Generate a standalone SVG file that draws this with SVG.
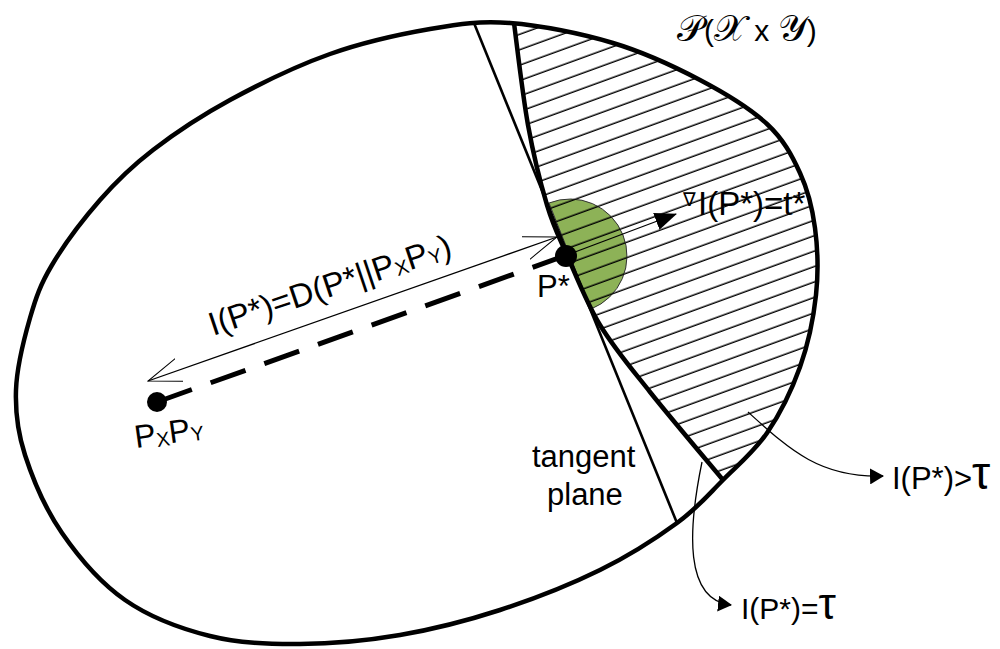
<svg xmlns="http://www.w3.org/2000/svg" width="1000" height="649" viewBox="0 0 1000 649">
<style>
.lbl{font-family:"Liberation Sans",Arial,sans-serif;fill:#000}
.thick{fill:none;stroke:#000;stroke-width:4.5}
.thin{fill:none;stroke:#000;stroke-width:1.3}
.script{font-family:"DejaVu Serif",serif;font-size:37px}
</style>
<defs>
<path id="outer" d="M16,390 C16.8,367.2 24,338.8 30,318 S40.3,284.7 52,265 S83.2,219.2 100,200 S131.3,166.7 153,150 S200.5,116 230,100 S296.7,65.8 330,54 S400,34.2 430,29 S479.5,20.7 510,23 S581.3,33.5 613,43 S674.3,66.5 700,80 S750.3,108.5 767,124 S792,155.7 800,173 S812.3,207.7 815,228 S818.5,271.8 816,295 S808.2,344 800,367 S779.8,414.2 767,433 S738,465 723,480 S697.5,508 677,523 S629.5,555.5 600,570 S533.3,599.2 500,610 S433.3,629.3 400,635 S331.7,643.8 300,644 S239.2,643.3 210,636 S149.7,617.2 125,600 S78.7,557.2 62,533 S32.7,478.8 25,455 S15.2,412.8 16,390 Z"/>
<clipPath id="clipOuter"><use href="#outer"/></clipPath>
<clipPath id="clipRight"><path d="M514,0 L514,23 C516.3,40 522.5,94.7 528,125 S540.5,183.3 547,205 S558.2,235 567,255 S586.2,302.2 600,325 S629.5,366.2 650,392 S710.8,465.3 723,480 L790,560 L1000,649 L1000,0 Z"/></clipPath>
<pattern id="hatch" patternUnits="userSpaceOnUse" width="200" height="14.5" patternTransform="rotate(-20)">
<line x1="0" y1="7" x2="200" y2="7" stroke="#000" stroke-width="1.5"/>
</pattern>
<marker id="openArrow" viewBox="0 0 34 26" refX="33" refY="13" markerWidth="34" markerHeight="26" markerUnits="userSpaceOnUse" orient="auto-start-reverse">
<path d="M0,1 L33,13 L0,25" fill="none" stroke="#000" stroke-width="1"/>
</marker>
<marker id="bigHead" viewBox="0 0 22 18" refX="21" refY="9" markerWidth="22" markerHeight="18" markerUnits="userSpaceOnUse" orient="auto">
<path d="M0,0 L22,9 L0,18 Z" fill="#000"/>
</marker>
<marker id="smallHead" viewBox="0 0 14 16" refX="13" refY="8" markerWidth="14" markerHeight="16" markerUnits="userSpaceOnUse" orient="auto">
<path d="M0,0 L14,8 L0,16 Z" fill="#000"/>
</marker>
</defs>

<g id="hatched-region">
<g clip-path="url(#clipOuter)"><g clip-path="url(#clipRight)">
<rect x="400" y="0" width="600" height="649" fill="url(#hatch)"/>
</g></g>
</g>

<g id="green-halfdisk">
<path d="M549,203 A57,57 0 0 1 591,309 Z" fill="#8db257" stroke="#333" stroke-width="1"/>
<g clip-path="url(#clipRight)">
<path d="M549,203 A57,57 0 0 1 591,309 Z" fill="url(#hatch)"/>
</g>
</g>

<g id="region-outer">
<use href="#outer" class="thick"/>
</g>

<g id="threshold-boundary">
<path class="thick" d="M514,23 C516.3,40 522.5,94.7 528,125 S540.5,183.3 547,205 S558.2,235 567,255 S586.2,302.2 600,325 S629.5,366.2 650,392 S710.8,465.3 723,480"/>
</g>

<g id="tangent-plane">
<line x1="474" y1="23" x2="677" y2="523" stroke="#000" stroke-width="2.6"/>
<text class="lbl" x="532" y="467" font-size="31">tangent</text>
<text class="lbl" x="547" y="505" font-size="31">plane</text>
</g>

<g id="connectors">
<line x1="157" y1="402" x2="567" y2="255" stroke="#000" stroke-width="5" stroke-dasharray="37 20"/>
<line x1="148" y1="381" x2="557" y2="237" class="thin" stroke-width="1" marker-start="url(#openArrow)" marker-end="url(#openArrow)"/>
<line x1="567" y1="255" x2="676" y2="214" class="thin" stroke-width="1.2" marker-end="url(#bigHead)"/>
<path class="thin" d="M748,412 C790,450 820,478 883,476" marker-end="url(#smallHead)"/>
<path class="thin" d="M702,462 C688,530 684,600 731,605" marker-end="url(#smallHead)"/>
</g>

<g id="node-pxpy">
<circle cx="157" cy="402" r="10" fill="#000"/>
<text class="lbl" font-size="32" transform="translate(136,448) rotate(-8)">P<tspan font-size="20" dy="2">X</tspan><tspan dy="-2">P</tspan><tspan font-size="20" dy="1">Y</tspan></text>
</g>

<g id="node-pstar">
<circle cx="566" cy="256" r="11" fill="#000"/>
<text class="lbl" x="537" y="297" font-size="31">P*</text>
</g>

<g id="label-divergence">
<text class="lbl" font-size="33" transform="translate(213,336) rotate(-18.5)">I(P*)=D(P*||P<tspan font-size="20" dy="2">X</tspan><tspan dy="-2">P</tspan><tspan font-size="20" dy="2">Y</tspan><tspan dy="-2">)</tspan></text>
</g>

<g id="label-gradient">
<text class="lbl" x="683" y="206" font-size="19">∇</text>
<text class="lbl" x="698" y="215" font-size="33">I(P*)=t*</text>
</g>

<g id="label-title">
<text class="lbl" x="677" y="41" font-size="30"><tspan class="script">𝒫</tspan>(<tspan class="script">𝒳</tspan> x <tspan class="script">𝒴</tspan>)</text>
</g>

<g id="label-greater">
<text class="lbl" x="892" y="489" font-size="31">I(P*)&gt;<tspan font-size="46">τ</tspan></text>
</g>

<g id="label-equal">
<text class="lbl" x="741" y="619" font-size="30">I(P*)=<tspan font-size="44">τ</tspan></text>
</g>
</svg>
